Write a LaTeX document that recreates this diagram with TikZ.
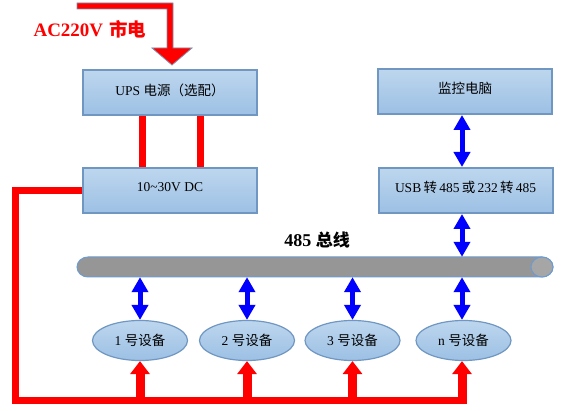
\documentclass[tikz,border=0pt]{standalone}
\usepackage{fontspec}
\setmainfont{Liberation Serif}
\newfontfamily\cjk{Noto Sans CJK SC}
\usetikzlibrary{arrows.meta,shapes.geometric,calc}
\definecolor{boxtop}{RGB}{189,214,238}
\definecolor{boxbot}{RGB}{156,192,228}
\definecolor{boxline}{RGB}{112,151,194}
\definecolor{busfill}{RGB}{150,150,150}
\definecolor{busend}{RGB}{166,166,166}
\definecolor{busline}{RGB}{109,155,209}
\definecolor{pwr}{RGB}{255,0,0}
\definecolor{sig}{RGB}{0,0,255}
\definecolor{arrline}{RGB}{125,145,175}
\tikzset{
 box/.style={draw=boxline, line width=2pt, top color=boxtop, bottom color=boxbot,
   minimum width=174pt, minimum height=45pt, inner sep=0pt,
   font=\fontsize{13.5}{16}\selectfont},
 dev/.style={ellipse, draw=boxline, line width=1.2pt, top color=boxtop, bottom color=boxbot,
   minimum width=95pt, minimum height=40pt, inner sep=0pt,
   font=\fontsize{13.5}{16}\selectfont},
 sigarrow/.style={draw=sig, line width=5pt,
   {Triangle[width=16pt,length=15pt]}-{Triangle[width=16pt,length=15pt]}},
 pwrline/.style={draw=pwr, line width=7pt},
 pwrarrow/.style={draw=pwr, line width=9pt, -{Triangle[width=19pt,length=13pt]}},
}
\begin{document}
\begin{tikzpicture}[x=1pt,y=-1pt]
\useasboundingbox[fill=white] (0,0) rectangle (564,411);

% mains input arrow
\filldraw[fill=pwr, draw=arrline, line width=0.8pt, line join=miter]
  (77,3) -- (173,3) -- (173,48) -- (192,48) -- (172,65) -- (152,48)
  -- (167,48) -- (167,9) -- (77,9) -- cycle;
\node[anchor=west, text=pwr, font=\fontsize{19}{22}\selectfont\bfseries] (mains) at (30,29)
  {AC220V\hspace{6pt}{\cjk\bfseries\fontsize{18.5}{20}\selectfont 市电}};

% boxes
\node[box] (ups) at (170,93) {\raisebox{7pt}{UPS {\cjk 电源（选配）}}};
\node[box] (dc)  at (170,191) {\raisebox{7pt}{10\textasciitilde 30V DC}};
\node[box] (pc)  at (465,91.5) {\raisebox{7pt}{\cjk 监控电脑}};
\node[box] (usb) at (465.5,190.5) {\raisebox{7pt}{USB\,{\cjk 转}\,485\,{\cjk 或}\,232\,{\cjk 转}\,485}};

% bus
\node[minimum width=476pt, minimum height=20pt, inner sep=0pt] (bus) at (315,267) {};
\filldraw[fill=busfill, draw=busline, line width=1pt]
  (88,257) -- (542,257) arc[start angle=-90, end angle=90, x radius=11, y radius=10]
  -- (88,277) arc[start angle=90, end angle=270, x radius=11, y radius=10] -- cycle;
\filldraw[fill=busend, draw=busline, line width=1pt] (542,267) ellipse[x radius=11, y radius=10];
\node[font=\fontsize{18}{20}\selectfont\bfseries] (buslabel) at (317,240)
  {485 {\cjk\bfseries\fontsize{17}{20}\selectfont 总线}};

% devices
\node[dev] (e1) at (140,340.5) {1 {\cjk 号设备}};
\node[dev] (e2) at (247,340.5) {2 {\cjk 号设备}};
\node[dev] (e3) at (352.5,340.5) {3 {\cjk 号设备}};
\node[dev] (en) at (463.5,340.5) {n {\cjk 号设备}};

% signal arrows
\coordinate (cx) at (462,0);
\draw[sigarrow] (pc.south -| cx) -- (usb.north -| cx);
\draw[sigarrow] (usb.south -| cx) -- (bus.north -| cx);
\draw[sigarrow] (bus.south -| e1.north) -- (e1.north);
\draw[sigarrow] (bus.south -| e2.north) -- (e2.north);
\draw[sigarrow] (bus.south -| e3.north) -- (e3.north);
\draw[sigarrow] (bus.south -| cx) -- (en.north -| cx);

% power lines
\coordinate (p1) at (142,0);
\coordinate (p2) at (200,0);
\draw[pwrline] (ups.south -| p1) -- (dc.north -| p1);
\draw[pwrline] (ups.south -| p2) -- (dc.north -| p2);
\coordinate (pl) at (15,400);
\coordinate (pr) at (466.5,400);
\coordinate (pb) at (0,403.5);
\draw[pwrline, line join=miter] (dc.west) -| (pl) -- (pr);
\draw[pwrarrow] (e1.south |- pb) -- (e1.south);
\draw[pwrarrow] (e2.south |- pb) -- (e2.south);
\draw[pwrarrow] (e3.south |- pb) -- (e3.south);
\draw[pwrarrow] (cx |- pb) -- (en.south -| cx);
\end{tikzpicture}
\end{document}
